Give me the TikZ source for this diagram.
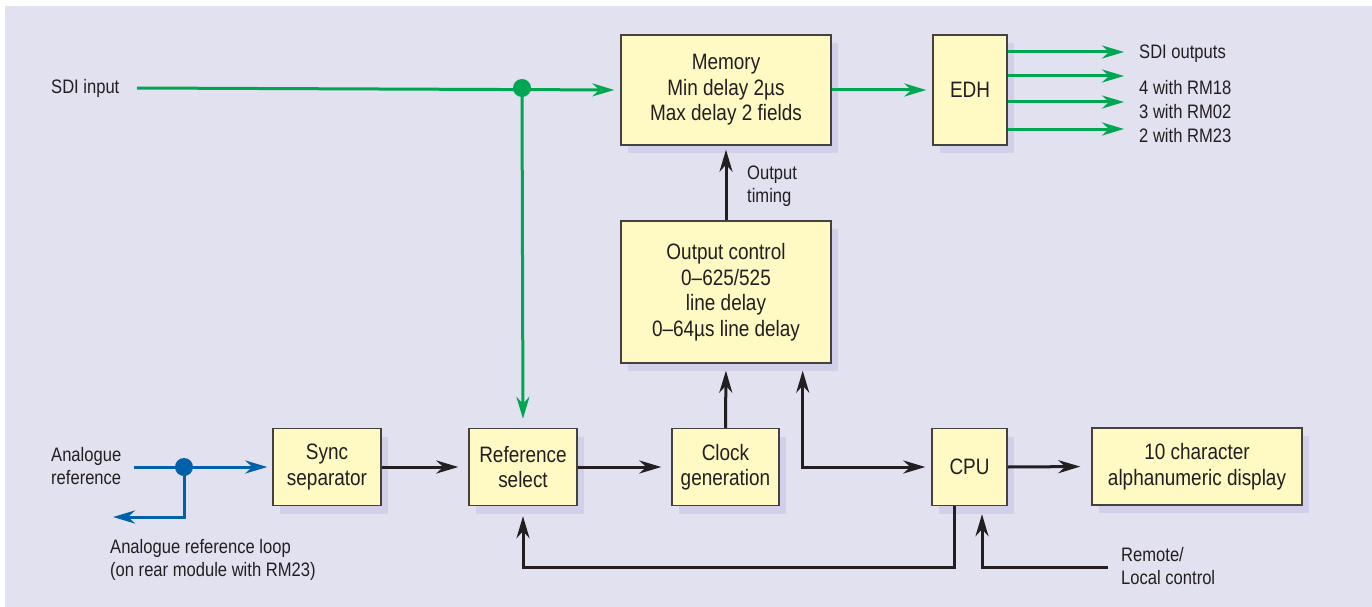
\documentclass[tikz,border=0pt]{standalone}
\usepackage{fontspec}
\setmainfont[FakeStretch=0.85]{Liberation Sans}
\usetikzlibrary{arrows.meta,shadows}

\definecolor{bgcol}{RGB}{226,225,240}
\definecolor{shadecol}{RGB}{210,208,232}
\definecolor{boxcol}{RGB}{255,249,196}
\definecolor{sdigreen}{RGB}{0,166,81}
\definecolor{refblue}{RGB}{0,96,168}
\definecolor{inkcol}{RGB}{35,31,32}

\tikzset{
  block/.style={rectangle, draw=inkcol!85, line width=1.4pt, fill=boxcol, text=inkcol,
    align=center, inner sep=0pt, font=\fontsize{22.3}{25.5}\selectfont,
    drop shadow={shadow xshift=7pt, shadow yshift=-8pt, fill=shadecol, opacity=1}},
  lbl/.style={anchor=west, inner sep=0pt, align=left, text=inkcol, font=\fontsize{19.5}{23}\selectfont},
  tip/.style={-{Stealth[length=22pt, width=13pt, inset=7pt]}},
  gline/.style={draw=sdigreen, line width=3pt, tip, color=sdigreen},
  bline/.style={draw=inkcol, line width=3pt, tip, color=inkcol},
  rline/.style={draw=refblue, line width=3pt, tip, color=refblue},
  junction/.style={circle, inner sep=0pt, minimum size=18pt}
}

\begin{document}
\begin{tikzpicture}[x=1pt, y=-1pt]
    \useasboundingbox (0,0) rectangle (1372,607);
    \fill[bgcol] (5,6) rectangle (1372,607);

    % blocks
    \node (mem) at (726,90) [block, minimum width=210pt, minimum height=110pt] {Memory\\Min delay 2µs\\Max delay 2 fields};
    \node (edh) at (970,90) [block, minimum width=74pt, minimum height=110pt] {EDH};
    \node (outctl) at (726,292) [block, minimum width=210pt, minimum height=142pt] {Output control\\0–625/525\\line delay\\0–64µs line delay};
    \node (sync) at (327,467) [block, minimum width=108pt, minimum height=77pt] {Sync\\separator};
    \node (refsel) at (523,467) [block, minimum width=108pt, minimum height=77pt] {Reference\\select};
    \node (clk) at (725.5,467) [block, minimum width=107pt, minimum height=77pt] {Clock\\generation};
    \node (cpu) at (969.5,467) [block, minimum width=75pt, minimum height=77pt] {CPU};
    \node (disp) at (1197,466.5) [block, minimum width=210pt, minimum height=77pt] {10 character\\alphanumeric display};

    % labels
    \node (sdiin) at (51,88) [lbl] {SDI input};
    \node (anaref) at (51,466) [lbl] {Analogue\\reference};
    \node (loop) at (110,560) [lbl] {Analogue reference loop\\(on rear module with RM23)};
    \node (remote) at (1121,566) [lbl] {Remote/\\Local control};
    \node (timing) at (747,186) [lbl] {Output\\timing};
    \node (sdiout) at (1139,54) [lbl] {SDI outputs};
    \node (variants) at (1139,112) [lbl, font=\fontsize{19.5}{24}\selectfont] {4 with RM18\\3 with RM02\\2 with RM23};

    % free ends
    \coordinate (sdistart) at (137,88);
    \coordinate (refstart) at (134,467);
    \coordinate (loopend) at (113,517);
    \coordinate (remstart) at (1108,567);
    \coordinate (bus) at (0,567);

    % SDI path
    \node (sdijn) at (522,88) [junction, fill=sdigreen] {};
    \draw[gline, shorten >=6pt] (sdistart) -- (mem.west);
    \draw[gline, shorten >=9pt] (sdijn.center) -- (refsel.north);
    \draw[gline, shorten >=6pt] (mem.east) -- (edh.west);
    \foreach \yy [count=\i] in {52,76,102,129} {
        \coordinate (out\i) at (1124,\yy);
        \draw[gline] (edh.east |- out\i) -- (out\i);
    }

    % analogue reference
    \node (refjn) at (184,467) [junction, fill=refblue] {};
    \draw[rline, shorten >=5pt] (refstart) -- (sync.west);
    \draw[rline] (refjn.center) |- (loopend);

    % control paths
    \draw[bline, shorten >=4pt] (outctl.north) -- (mem.south);
    \draw[bline, shorten >=7pt] (clk.north) -- (outctl.south);
    \draw[bline, {Stealth[length=22pt, width=13pt, inset=7pt]}-{Stealth[length=22pt, width=13pt, inset=7pt]}, shorten <=7pt, shorten >=6pt]
        ([xshift=-29pt]outctl.south east) |- (cpu.west);
    \draw[bline, shorten >=10pt] (sync.east) -- (refsel.west);
    \draw[bline, shorten >=10pt] (refsel.east) -- (clk.west);
    \draw[bline, shorten >=11pt] (cpu.east) -- (disp.west);
    \draw[bline, shorten >=10pt] ([xshift=-15.5pt]cpu.south) |- (refsel.south |- bus) -- (refsel.south);
    \draw[bline, shorten >=8pt] (remstart) -| ([xshift=12.5pt]cpu.south);

\end{tikzpicture}
\end{document}
